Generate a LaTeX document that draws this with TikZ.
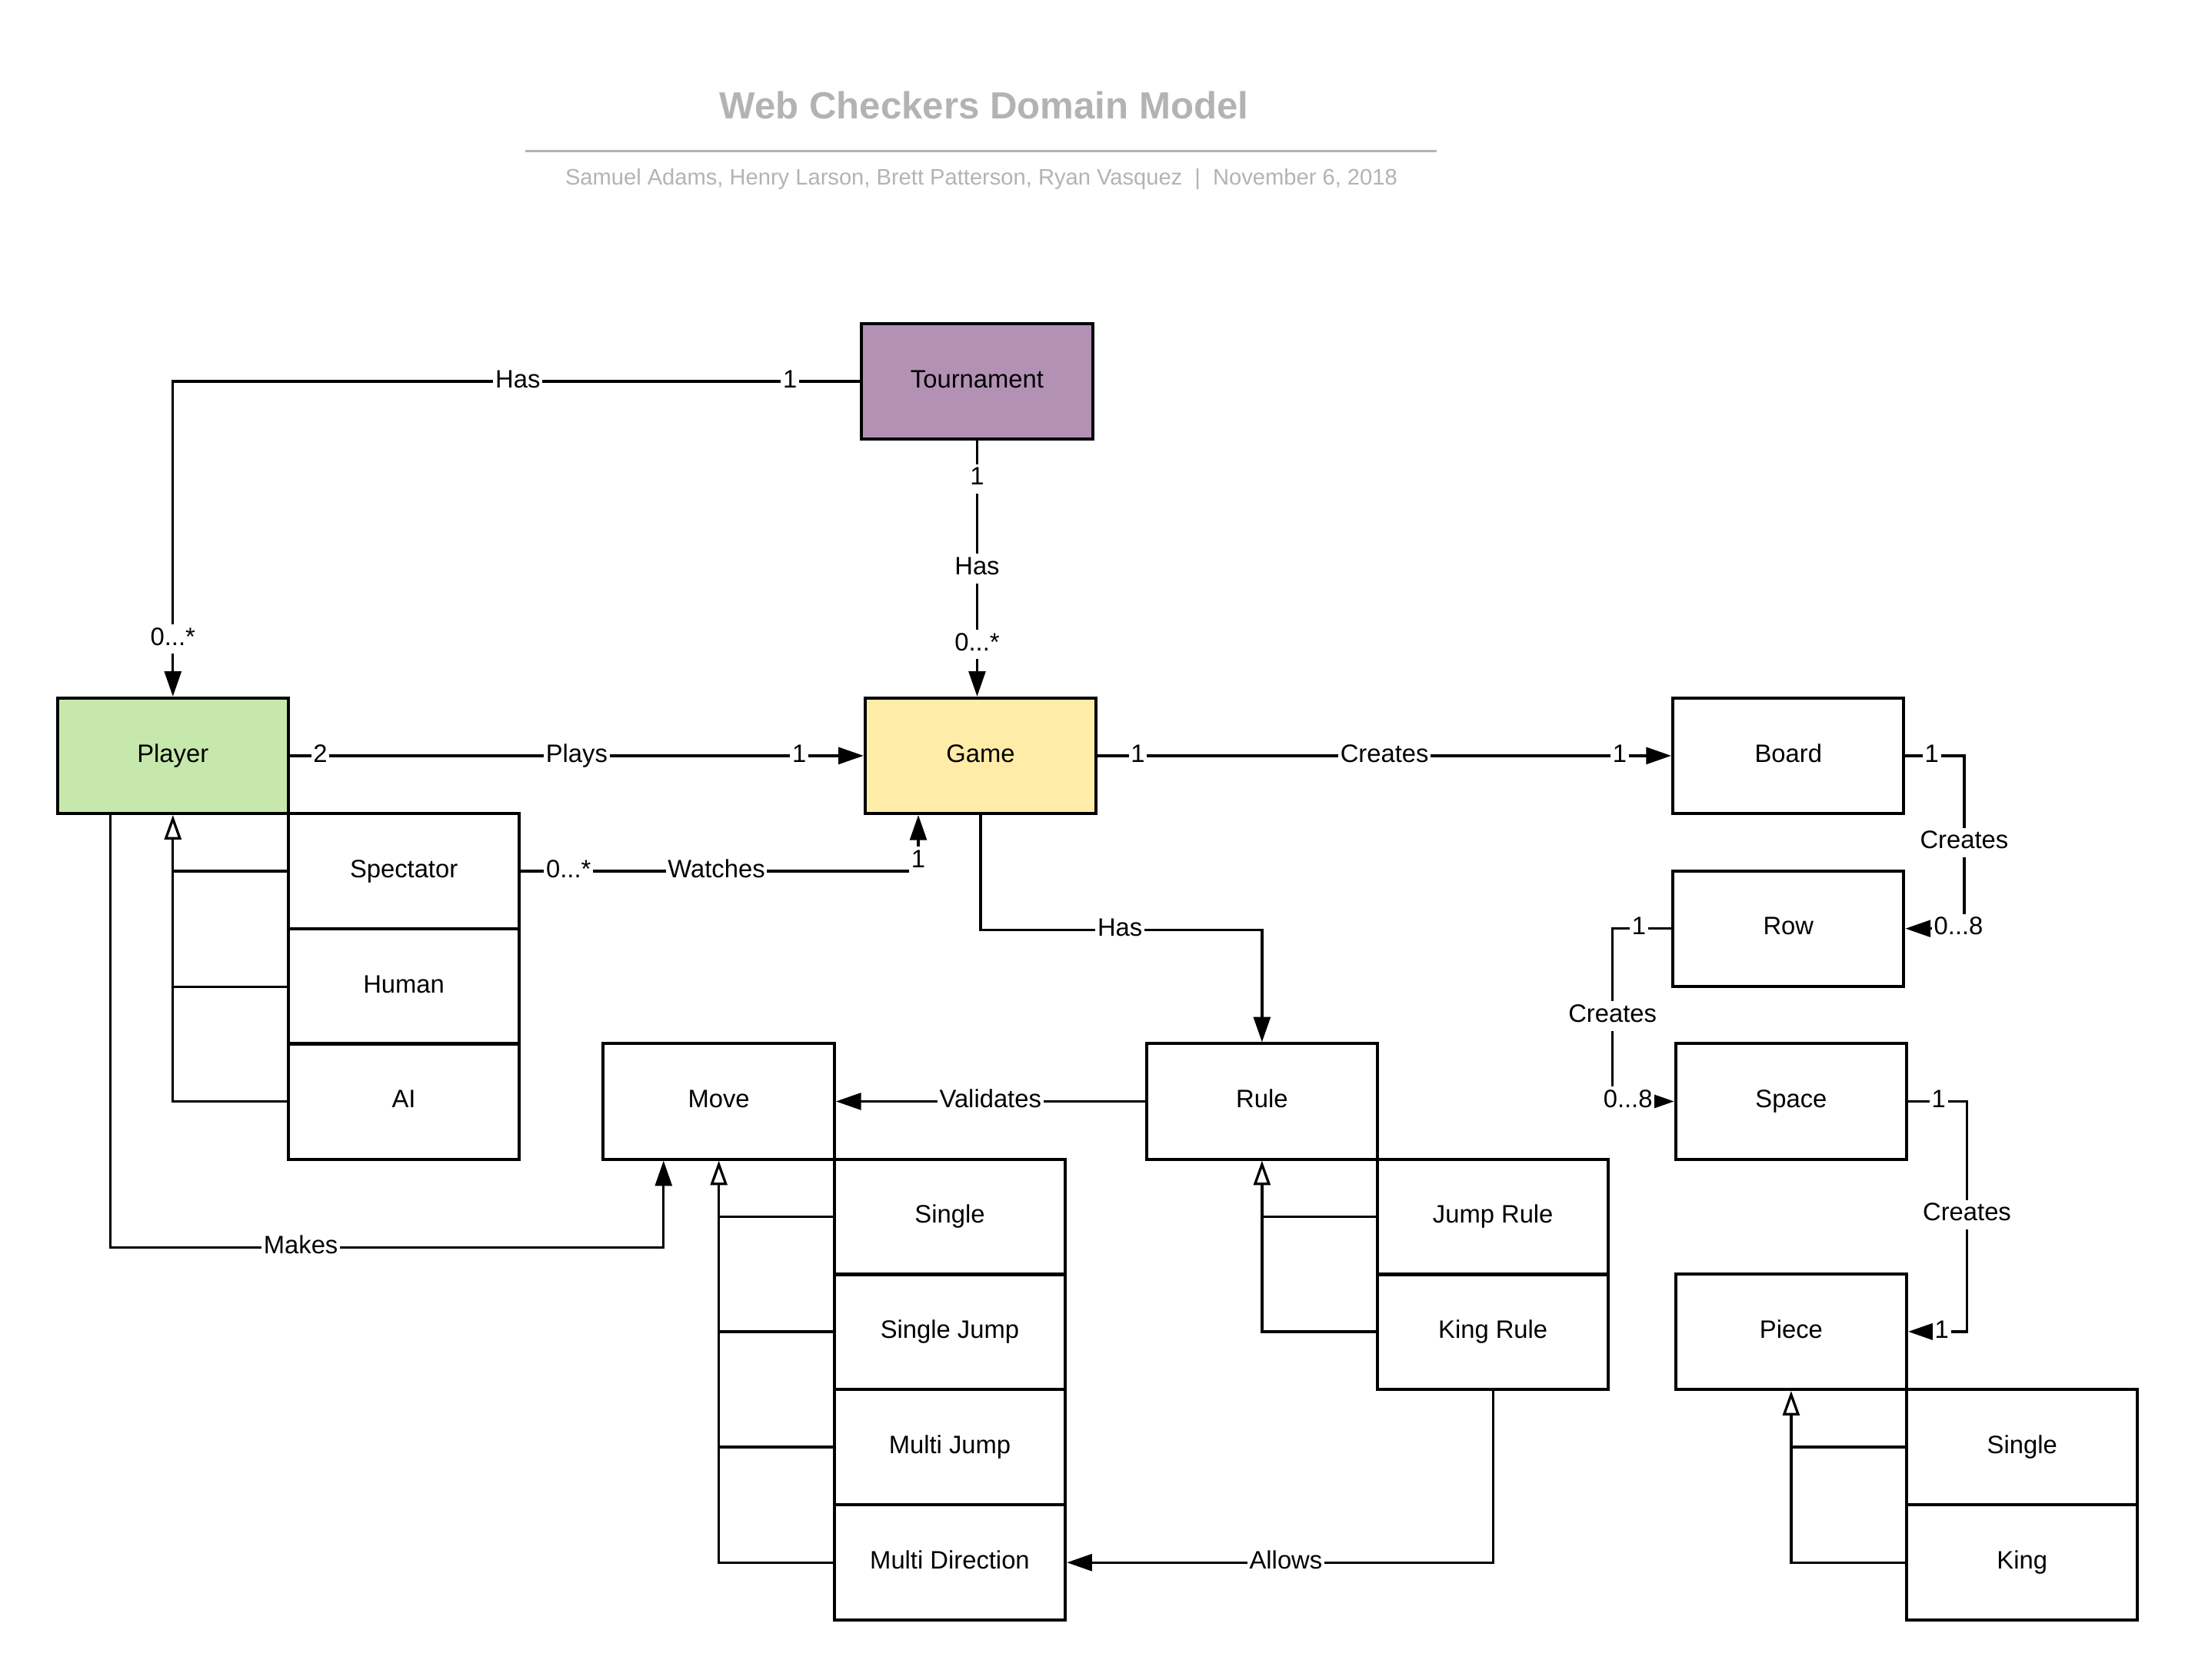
\documentclass[tikz,border=0pt]{standalone}
\usepackage{fontspec}
\setmainfont{Liberation Sans}
\usetikzlibrary{arrows.meta}
\definecolor{tourncol}{RGB}{179,145,181}
\definecolor{playercol}{RGB}{199,232,172}
\definecolor{gamecol}{RGB}{255,236,169}
\definecolor{titlecol}{RGB}{179,179,179}
\begin{document}
\begin{tikzpicture}[x=1pt,y=-1pt,
  every node/.style={font=\fontsize{18}{21}\selectfont, inner sep=0pt},
  cls/.style={draw, line width=2.2pt, minimum width=165pt, minimum height=82.5pt,
    text height=13.5pt, text depth=4.5pt},
  lbl/.style={fill=white, inner sep=1.5pt, text height=13.5pt, text depth=4.5pt},
  link/.style={line width=1.8pt},
  assoc/.style={link, -{Triangle[length=18pt,width=12pt]}},
  inherit/.style={link, -{Triangle[open,length=17.5pt,width=12pt]}}]
  \useasboundingbox (0,0) rectangle (1568,1200);
  \node[text=titlecol, font=\fontsize{27}{32}\selectfont\bfseries] (title) at (703,75) {Web Checkers Domain Model};
  \coordinate (ruleL) at (375,108);
  \coordinate (ruleR) at (1026,108);
  \draw[titlecol, line width=2pt] (ruleL) -- (ruleR);
  \node[text=titlecol, font=\fontsize{16}{19}\selectfont] (authors) at (701,128) {Samuel Adams, Henry Larson, Brett Patterson, Ryan Vasquez~~|~~November 6, 2018};
  \node[cls, fill=tourncol] (tournament) at (698,272.5) {Tournament};
  \node[cls, fill=playercol] (player) at (123.5,540) {Player};
  \node[cls, fill=gamecol] (game) at (700.5,540) {Game};
  \node[cls] (board) at (1277.5,540) {Board};
  \node[cls] (spectator) at (288.5,622.5) {Spectator};
  \node[cls] (human) at (288.5,705) {Human};
  \node[cls] (ai) at (288.5,787) {AI};
  \node[cls] (row) at (1277.5,663.5) {Row};
  \node[cls] (move) at (513.5,787) {Move};
  \node[cls] (rule) at (901.5,787) {Rule};
  \node[cls] (space) at (1279.5,787) {Space};
  \node[cls] (msingle) at (678.5,869.5) {Single};
  \node[cls] (sjump) at (678.5,951.5) {Single Jump};
  \node[cls] (mjump) at (678.5,1034) {Multi Jump};
  \node[cls] (mdir) at (678.5,1116.5) {Multi Direction};
  \node[cls] (jrule) at (1066.5,869.5) {Jump Rule};
  \node[cls] (krule) at (1066.5,951.5) {King Rule};
  \node[cls] (piece) at (1279.5,951.5) {Piece};
  \node[cls] (psingle) at (1444.5,1034) {Single};
  \node[cls] (pking) at (1444.5,1116.5) {King};
  \draw[assoc] (tournament.west) -| node[lbl, pos=0.051] {1} node[lbl, pos=0.249] {Has}
    node[lbl, pos=0.909] {0...*} (player.north);
  \draw[assoc] (tournament.south) -- node[lbl, pos=0.149] {1} node[lbl, pos=0.5] {Has}
    node[lbl, pos=0.797] {0...*} (tournament.south |- game.north);
  \draw[assoc] (player.east) -- node[lbl, pos=0.053] {2} node[lbl, pos=0.5] {Plays}
    node[lbl, pos=0.888] {1} (game.west);
  \draw[assoc] (game.east) -- node[lbl, pos=0.07] {1} node[lbl, pos=0.5] {Creates}
    node[lbl, pos=0.91] {1} (board.west);
  \draw[assoc] (board.east) -- node[lbl, pos=0.45] {1} ++(42,0) |- node[lbl, pos=0.251] {Creates}
    node[lbl, pos=0.548] {0...8} (row.east);
  \draw[assoc] (row.west) -- node[lbl, pos=0.55] {1} ++(-42,0) |- node[lbl, pos=0.253] {Creates}
    node[lbl, pos=0.625] {0...8} (space.west);
  \draw[assoc] (space.east) -- node[lbl, pos=0.52] {1} ++(42,0) |- node[lbl, pos=0.246] {Creates}
    node[lbl, pos=0.714] {1} (piece.east);
  \draw[assoc] (spectator.east) -| node[lbl, pos=0.06] {0...*} node[lbl, pos=0.246] {Watches}
    node[lbl, pos=0.59] {1} ([xshift=-44.5pt]game.south);
  \draw[assoc] (game.south) -- ++(0,82) -| node[lbl, pos=0.2475] {Has} (rule.north);
  \draw[assoc] (rule.west) -- node[lbl, pos=0.5] {Validates} (move.east);
  \draw[assoc] ([xshift=-44.5pt]player.south) -- ++(0,309) -| node[lbl, pos=0.172] {Makes}
    ([xshift=-39.5pt]move.south);
  \draw[assoc] (krule.south) |- node[lbl, pos=0.743] {Allows} (mdir.east);
  \draw[inherit] (ai.west) -| (player.south);
  \draw[link] (spectator.west) -- (spectator.west -| player.south);
  \draw[link] (human.west) -- (human.west -| player.south);
  \draw[inherit] (mdir.west) -| (move.south);
  \draw[link] (msingle.west) -- (msingle.west -| move.south);
  \draw[link] (sjump.west) -- (sjump.west -| move.south);
  \draw[link] (mjump.west) -- (mjump.west -| move.south);
  \draw[inherit] (krule.west) -| (rule.south);
  \draw[link] (jrule.west) -- (jrule.west -| rule.south);
  \draw[inherit] (pking.west) -| (piece.south);
  \draw[link] (psingle.west) -- (psingle.west -| piece.south);
\end{tikzpicture}
\end{document}
